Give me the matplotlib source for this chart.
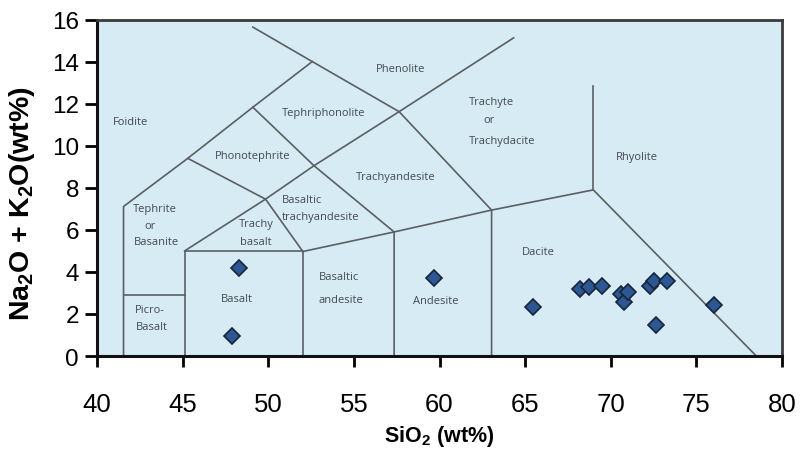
import numpy as np
import matplotlib
matplotlib.use('Agg')
from matplotlib import pyplot as plt

plt.rcParams['font.family'] = ['Liberation Sans', 'DejaVu Sans']
plt.rcParams['mathtext.fontset'] = 'custom'
plt.rcParams['mathtext.rm'] = 'Liberation Sans'
plt.rcParams['mathtext.bf'] = 'Liberation Sans:bold'

# 样品数据 SiO2 / Na2O+K2O (wt%)
sio2 = [48.3, 47.9, 59.65, 65.45, 68.2, 68.75, 69.5, 70.6, 70.75, 71.0,
        72.3, 72.55, 73.3, 72.65, 76.05]
alk = [4.18, 0.95, 3.73, 2.35, 3.21, 3.30, 3.33, 2.94, 2.57, 3.05,
       3.33, 3.56, 3.56, 1.49, 2.45]

# TAS 分区边界线 (x列表, y列表)
boundaries = [
    ([41.55, 41.55, 45.3, 49.1, 52.57], [0, 7.11, 9.4, 11.83, 14.0]),
    ([41.55, 45.12], [2.9, 2.9]),
    ([45.12, 45.12, 52.02, 52.02], [0, 5.0, 5.0, 0]),
    ([45.12, 49.84, 52.67, 57.64, 64.33], [5.0, 7.46, 9.05, 11.62, 15.13]),
    ([49.1, 52.57, 57.64, 63.04, 63.04], [15.64, 14.0, 11.62, 6.94, 0]),
    ([49.1, 52.67, 57.35, 57.35], [11.83, 9.05, 5.9, 0]),
    ([45.3, 49.84, 52.02], [9.4, 7.46, 4.97]),
    ([52.02, 57.35, 63.04, 68.98, 78.5], [4.97, 5.9, 6.94, 7.9, 0]),
    ([68.98, 68.98], [7.9, 12.83]),
]

# 分区名称: (文字, x, y, 对齐)
rock_labels = [
    ('Foidite', 41.95, 11.14, 'center'),
    ('Phenolite', 57.7, 13.65, 'center'),
    ('Tephriphonolite', 53.25, 11.59, 'center'),
    ('Phonotephrite', 49.06, 9.52, 'center'),
    ('Trachyandesite', 57.45, 8.56, 'center'),
    ('Basaltic', 50.8, 7.45, 'left'),
    ('trachyandesite', 50.8, 6.62, 'left'),
    ('Tephrite', 43.4, 7.03, 'center'),
    ('or', 43.1, 6.23, 'center'),
    ('Basanite', 43.45, 5.43, 'center'),
    ('Trachy', 49.33, 6.3, 'center'),
    ('basalt', 49.25, 5.45, 'center'),
    ('Picro-', 43.1, 2.19, 'center'),
    ('Basalt', 43.2, 1.4, 'center'),
    ('Basalt', 48.15, 2.73, 'center'),
    ('Basaltic', 54.15, 3.78, 'center'),
    ('andesite', 54.25, 2.7, 'center'),
    ('Andesite', 59.8, 2.62, 'center'),
    ('Dacite', 65.77, 4.95, 'center'),
    ('Trachyte', 61.73, 12.11, 'left'),
    ('or', 62.87, 11.24, 'center'),
    ('Trachydacite', 61.7, 10.24, 'left'),
    ('Rhyolite', 71.54, 9.5, 'center'),
]

fig = plt.figure(figsize=(8.11, 4.56), dpi=100)
ax = fig.add_axes([0.1196, 0.217, 0.8447, 0.738])
ax.set_facecolor('#d6ebf4')

for xs, ys in boundaries:
    ax.plot(xs, ys, color='#5a5f64', lw=1.2, zorder=2)

for txt, x, y, ha in rock_labels:
    ax.text(x, y, txt, fontsize=8, color='#444a52', ha=ha, va='center',
            family=['Open Sans', 'DejaVu Sans'], zorder=3)

ax.plot(sio2, alk, linestyle='none', marker='D', markersize=8.5,
        markerfacecolor='#2c5793', markeredgecolor='#17243a', markeredgewidth=1.2,
        zorder=4)

ax.set_xlim(40, 80)
ax.set_ylim(0, 16)
ax.set_xticks(np.arange(40, 81, 5))
ax.set_yticks(np.arange(0, 17, 2))
ax.tick_params(axis='x', labelsize=18.5, length=8, width=2, direction='out', pad=18)
ax.tick_params(axis='y', labelsize=17.5, length=9, width=2, direction='out', pad=4)

for s in ['left', 'bottom']:
    ax.spines[s].set_linewidth(2.2)
    ax.spines[s].set_color('#111111')
for s in ['top', 'right']:
    ax.spines[s].set_linewidth(2)
    ax.spines[s].set_color('#3a3a3a')

ax.set_xlabel(r'SiO$\mathbf{_2}$ (wt%)', fontsize=15.5, fontweight='bold', labelpad=5)
ax.set_ylabel(r'Na$\mathbf{_2}$O + K$\mathbf{_2}$O(wt%)', fontsize=20.5, fontweight='bold',
              labelpad=8)
ax.yaxis.set_label_coords(-0.087, 0.455)

plt.savefig('out.png', dpi=100)
